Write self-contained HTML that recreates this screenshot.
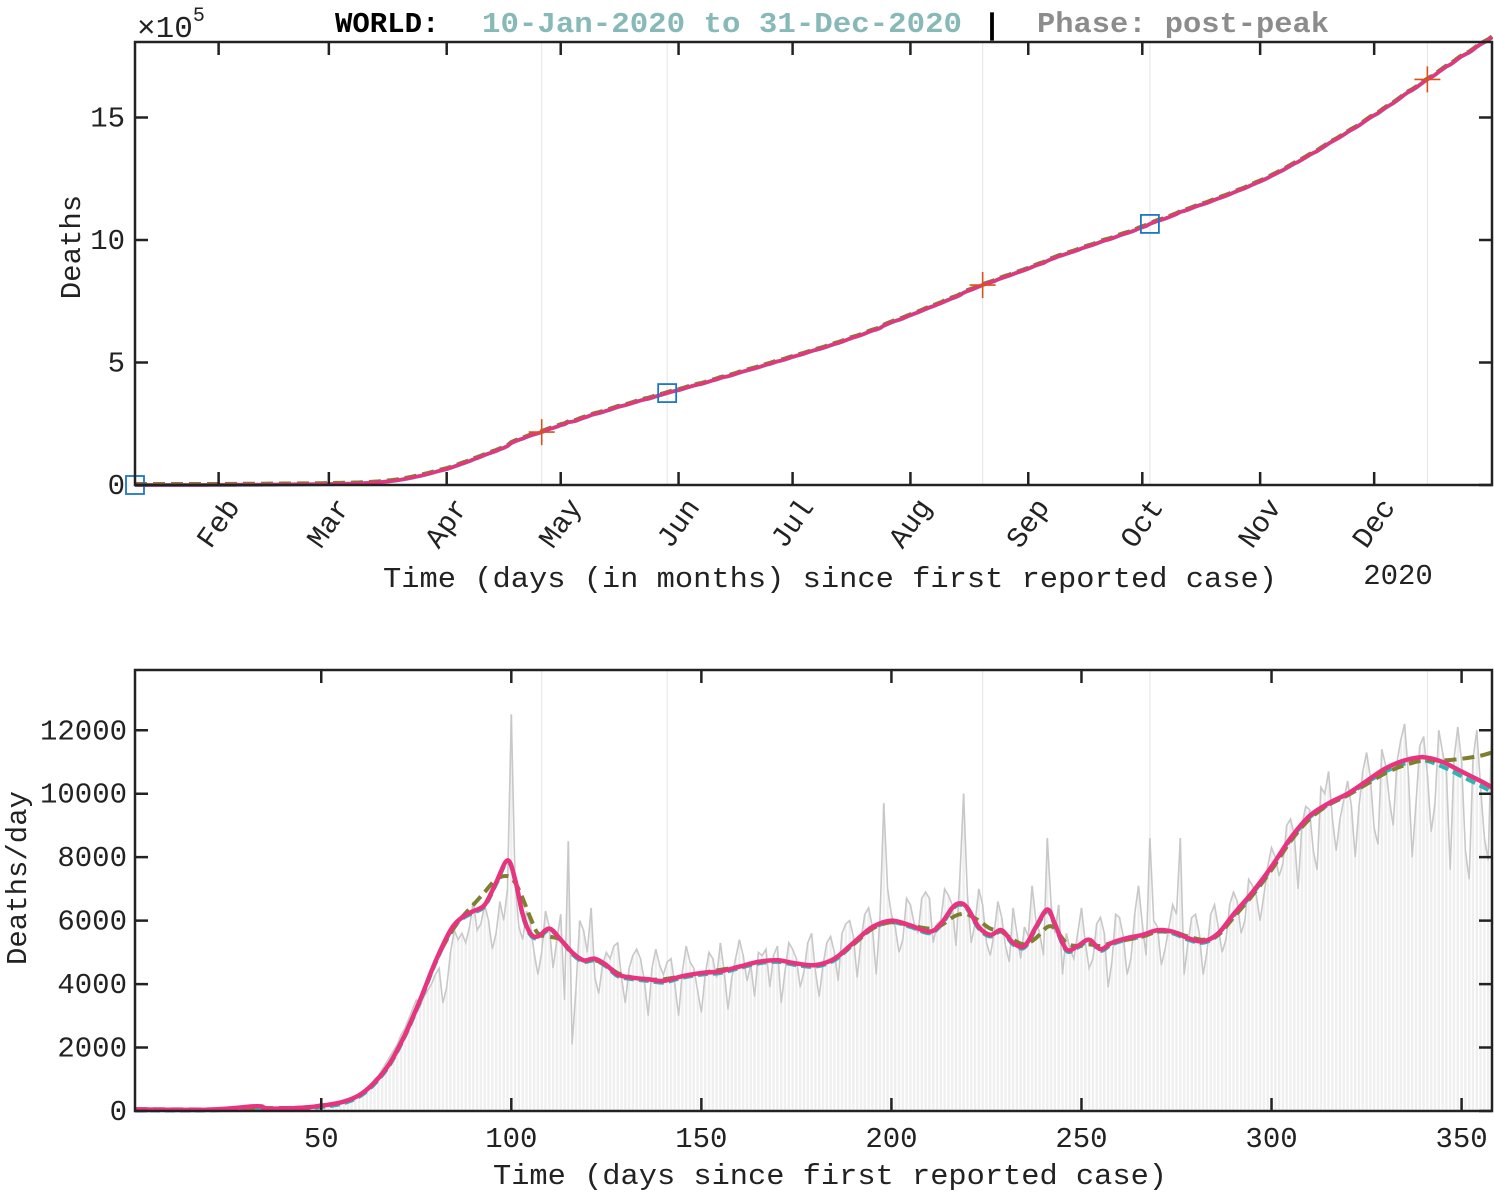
<!DOCTYPE html>
<html><head><meta charset="utf-8"><style>
body{margin:0;background:#fff;}
svg{display:block;font-family:"Liberation Mono","DejaVu Sans Mono",monospace;}
</style></head><body>
<svg id="fig" width="1494" height="1194" viewBox="0 0 1494 1194" xmlns="http://www.w3.org/2000/svg">
<text x="335" y="32" font-size="29" font-weight="bold" fill="#000">WORLD:</text>
<text x="482" y="32" font-size="29" font-weight="bold" fill="#86b9b7" textLength="480" lengthAdjust="spacingAndGlyphs">10-Jan-2020 to 31-Dec-2020</text>
<text x="983" y="34" font-size="30" font-weight="bold" fill="#000">|</text>
<text x="1037" y="32" font-size="29" font-weight="bold" fill="#8c8c8c" textLength="292" lengthAdjust="spacingAndGlyphs">Phase: post-peak</text>
<text x="137" y="37" font-size="31" fill="#222">×10<tspan dy="-16" font-size="20">5</tspan></text>
<g id="topg"></g><g id="botg"></g>
</svg>
<script>
const daily = [0,0,0,0,0,0,0,0,0,0,1,2,3,5,10,20,25,30,40,45,45,50,55,60,65,70,75,70,70,80,90,120,200,140,110,80,100,90,95,100,110,100,120,130,120,150,170,180,200,250,
200,200,250,250,300,300,350,400,450,500,600,700,800,1000,1100,1300,1500,1700,1900,2100,2400,2600,2900,3200,3500,3300,3600,3800,4000,4300,4500,3400,3900,5000,5700,5400,5600,5300,5800,6600,5700,5900,6500,6000,5100,5600,6600,6000,7000,12500,
7200,5800,5400,6300,5900,5000,4300,5000,6300,5800,4500,5400,6200,3500,8500,2100,3800,6000,5700,5000,6400,4200,3700,4600,5000,4800,5200,5300,4200,3400,4500,4900,5100,4800,4100,3000,4500,5100,4600,4300,4700,4800,4000,3000,4400,5200,4700,4500,3800,3100,
4300,5000,4800,4200,5300,4400,3200,4200,4800,5400,4900,4100,4600,3600,5000,4900,5100,3900,4900,5200,3400,4400,5300,5100,4800,3900,4400,5300,5600,4400,3600,4600,5300,5500,5000,4100,5600,5900,6000,5500,4200,5400,6200,6400,5800,4300,6100,9700,7000,6200,
5800,5000,5400,6700,6500,5900,5600,6700,6900,6700,5300,5900,6000,7000,6800,6500,5200,7300,10000,6800,5300,5900,7000,6500,5300,4900,5600,6600,6100,5200,4700,6400,5600,4800,5800,5500,7100,6000,5600,4900,8600,6500,5600,6500,4300,5600,5100,4800,5600,6400,
5300,4500,4800,5900,6100,5600,3900,4700,6200,6100,5500,4300,4800,6200,7100,5900,4900,8600,6000,5800,4600,5100,5800,6500,6200,8600,4300,5300,6100,6200,5600,4300,5000,6200,6500,5800,5000,5400,6500,6900,6600,5600,6000,7300,7100,6800,6000,6800,7700,8300,
8000,7400,7800,9000,9200,8700,7000,9000,9600,9500,8200,7600,10200,10000,10700,9200,8200,9200,9800,10400,9600,8000,9600,10700,11300,10500,8900,8400,11400,10900,9800,9000,11000,11700,12200,10600,8000,9700,11500,11800,10600,8800,9700,12000,11300,10700,7600,11100,12100,11000,8200,7300,11100,12000,10200,8600,7900,12400];
const smDays = [1,20,33,36,45,52,56,60,64,68,72,76,80,84,87,90,93,96,99,101,103,105,107,110,113,116,119,122,125,128,132,136,140,145,150,155,160,165,170,175,180,185,190,195,200,205,210,213,216,218,220,223,226,229,232,235,238,241,243,246,249,252,255,258,262,266,270,274,278,282,286,290,295,300,305,310,315,320,325,330,335,340,345,350,355,358];
const smPink = [50,40,150,80,100,200,300,500,900,1500,2400,3500,4700,5700,6100,6300,6500,7200,7900,7300,6200,5600,5500,5750,5400,5000,4750,4800,4600,4300,4200,4150,4100,4250,4350,4400,4550,4700,4750,4650,4600,4800,5300,5800,6000,5850,5650,5900,6400,6550,6400,5800,5550,5700,5300,5200,5800,6350,5900,5100,5200,5400,5100,5300,5450,5550,5700,5650,5450,5350,5600,6200,6900,7700,8600,9300,9700,10000,10400,10800,11050,11150,11000,10700,10400,10200];
const smCyan = [20,20,60,60,80,150,250,450,850,1450,2350,3450,4650,5650,6050,6250,6450,7150,7850,7250,6150,5550,5450,5700,5400,4950,4700,4750,4550,4250,4150,4100,4050,4200,4300,4350,4500,4650,4700,4600,4550,4750,5250,5750,5950,5800,5600,5850,6350,6500,6350,5750,5500,5650,5250,5150,5750,6300,5850,5050,5150,5350,5050,5250,5400,5500,5650,5600,5400,5300,5550,6150,6850,7650,8550,9250,9650,9950,10350,10700,10950,11050,10850,10550,10250,10050];
const smOlive = [60,50,90,90,110,200,300,500,900,1500,2400,3500,4700,5600,6100,6500,6900,7300,7400,7200,6700,6100,5600,5500,5400,5000,4750,4750,4600,4350,4200,4150,4150,4250,4350,4450,4550,4700,4750,4650,4600,4800,5250,5750,5950,5850,5750,5850,6100,6200,6200,6000,5750,5650,5400,5250,5450,5800,5750,5300,5200,5250,5200,5300,5400,5500,5650,5650,5500,5400,5550,6100,6800,7600,8500,9200,9650,9950,10300,10650,10900,11050,11050,11100,11200,11300];
const monthNames = ["Feb","Mar","Apr","May","Jun","Jul","Aug","Sep","Oct","Nov","Dec"];
const monthDays = [23,52,83,113,144,174,205,236,266,297,327];
const topTicks = [0,5,10,15];
const botYTicks = [0,2000,4000,6000,8000,10000,12000];
const botXTicks = [50,100,150,200,250,300,350];
const squareDays = [1,141,268];
const plusDays = [108,224,341];
const gridDays = [108,141,224,268,341];

const NS="http://www.w3.org/2000/svg";
function mk(p,t,a){const e=document.createElementNS(NS,t);for(const k in a)e.setAttribute(k,a[k]);p.appendChild(e);return e;}
const L=135,R=1492;
const xS=d=>L+(d-1)*(R-L)/357;
const T1=42,B1=485,T2=670,B2=1111;
const yTop=v=>B1-(v/1e5)*24.5;
const yBot=v=>B2-v*(B2-T2)/13900;
const cum=[];let s=0;for(const v of daily){s+=v;cum.push(s);}
const topG=document.getElementById('topg'), botG=document.getElementById('botg');

for(const g of [topG,botG]){
  for(const d of gridDays){
    const l=mk(g,'line',{x1:xS(d),x2:xS(d),y1:g===topG?T1:T2,y2:g===topG?B1:B2,stroke:'#e4e4e4','stroke-width':1});
    
    
  }
}
daily.forEach((v,i)=>{
  const b=mk(botG,'rect',{x:xS(i+1)-1.2,y:yBot(v),width:2.4,height:B2-yBot(v),fill:'#efefef'});
  
  
});
function poly(g,xs,ys,yf,attrs,name){
  const pts=xs.map((x,i)=>xS(x).toFixed(1)+','+yf(ys[i]).toFixed(1)).join(' ');
  const p=mk(g,'polyline',Object.assign({points:pts,fill:'none'},attrs));
  
  
}
function spline(g,xs,ys,yf,attrs,name){
  const P=xs.map((x,i)=>[xS(x),yf(ys[i])]);
  let d=`M${P[0][0].toFixed(1)},${P[0][1].toFixed(1)}`;
  for(let i=0;i<P.length-1;i++){
    const p0=P[Math.max(0,i-1)],p1=P[i],p2=P[i+1],p3=P[Math.min(P.length-1,i+2)];
    const c1=[p1[0]+(p2[0]-p0[0])/6,p1[1]+(p2[1]-p0[1])/6];
    const c2=[p2[0]-(p3[0]-p1[0])/6,p2[1]-(p3[1]-p1[1])/6];
    d+=`C${c1[0].toFixed(1)},${c1[1].toFixed(1)} ${c2[0].toFixed(1)},${c2[1].toFixed(1)} ${p2[0].toFixed(1)},${p2[1].toFixed(1)}`;
  }
  const p=mk(g,'path',Object.assign({d:d,fill:'none'},attrs));
  
  
}
const allDays=daily.map((v,i)=>i+1);
poly(botG,allDays,daily,yBot,{stroke:'#c8c8c8','stroke-width':1.6},'daily-raw-line');
spline(botG,smDays,smCyan,yBot,{stroke:'#2fb3b3','stroke-width':4,'stroke-dasharray':'10 5'},'smooth-cyan');
spline(botG,smDays,smOlive,yBot,{stroke:'#7f7f30','stroke-width':4,'stroke-dasharray':'12 6'},'smooth-olive');
spline(botG,smDays,smPink,yBot,{stroke:'#e8347f','stroke-width':4.5,'stroke-linejoin':'round'},'smooth-magenta');

poly(topG,allDays,cum,yTop,{stroke:'#2fb3b3','stroke-width':4},'cumulative-cyan');
poly(topG,allDays,cum.map(v=>v+4000),yTop,{stroke:'#7f7f30','stroke-width':4,'stroke-dasharray':'12 6'},'cumulative-olive');
poly(topG,allDays,cum,yTop,{stroke:'#e8347f','stroke-width':3.5},'cumulative-magenta');
for(const d of squareDays){
  const x=xS(d),y=yTop(cum[d-1]);
  const r=mk(topG,'rect',{x:x-9,y:y-9,width:18,height:18,fill:'none',stroke:'#1f77c4','stroke-width':1.8});
  
  
}
for(const d of plusDays){
  const x=xS(d),y=yTop(cum[d-1]);
  const p=mk(topG,'path',{d:`M${x-13},${y}H${x+13}M${x},${y-13}V${y+13}`,stroke:'#d95319','stroke-width':1.6});
  
  
}

function axesBox(g,T,B,name){
  const r=mk(g,'rect',{x:L,y:T,width:R-L,height:B-T,fill:'none',stroke:'#222','stroke-width':2.5});
  
  
}
function txt(g,x,y,str,attrs,name){
  const t=mk(g,'text',Object.assign({x:x,y:y,'font-size':29,fill:'#222'},attrs));t.textContent=str;
  
  
  return t;
}
axesBox(topG,T1,B1,'top-axes');
axesBox(botG,T2,B2,'bottom-axes');
for(const v of topTicks){
  const y=yTop(v*1e5);
  mk(topG,'path',{d:`M${L},${y}h13M${R},${y}h-13`,stroke:'#222','stroke-width':2.5});
  txt(topG,125,y+9,String(v),{'text-anchor':'end'},'y-tick-label');
}
monthDays.forEach((d,i)=>{
  const x=xS(d);
  mk(topG,'path',{d:`M${x},${B1}v-13M${x},${T1}v13`,stroke:'#222','stroke-width':2.5});
  txt(topG,x+22,B1+22,monthNames[i],{'text-anchor':'end',transform:`rotate(-55 ${x+22} ${B1+22})`},'x-month-label');
});
txt(topG,1398,584,'2020',{'text-anchor':'middle'},'x-year-label');
txt(topG,830,587,'Time (days (in months) since first reported case)',{'text-anchor':'middle',textLength:894,lengthAdjust:'spacingAndGlyphs'},'top-x-axis-title');
txt(topG,80,247,'Deaths',{'text-anchor':'middle',transform:'rotate(-90 80 247)'},'top-y-axis-title');
for(const v of botYTicks){
  const y=yBot(v);
  mk(botG,'path',{d:`M${L},${y}h13M${R},${y}h-13`,stroke:'#222','stroke-width':2.5});
  txt(botG,127,y+9,String(v),{'text-anchor':'end'},'y-tick-label');
}
for(const v of botXTicks){
  const x=xS(v);
  mk(botG,'path',{d:`M${x},${B2}v-13M${x},${T2}v13`,stroke:'#222','stroke-width':2.5});
  txt(botG,x,1147,String(v),{'text-anchor':'middle'},'x-tick-label');
}
txt(botG,830,1184,'Time (days since first reported case)',{'text-anchor':'middle',textLength:674,lengthAdjust:'spacingAndGlyphs'},'bottom-x-axis-title');
txt(botG,26,878,'Deaths/day',{'text-anchor':'middle',transform:'rotate(-90 26 878)'},'bottom-y-axis-title');
</script>
</body></html>
